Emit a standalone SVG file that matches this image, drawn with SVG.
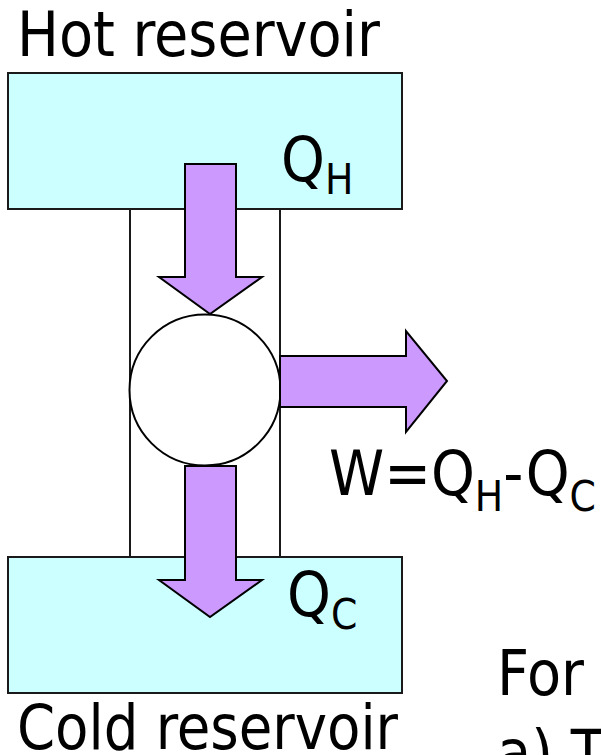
<svg xmlns="http://www.w3.org/2000/svg" width="601" height="755" viewBox="0 0 601 755">
<style>
.box{fill:#CCFFFF;stroke:#1a1a1a;stroke-width:2}
.arr{fill:#CC99FF;stroke:#000;stroke-width:2;stroke-linejoin:miter}
.ln{stroke:#1a1a1a;stroke-width:2;fill:none}
.t{font-family:"DejaVu Sans Condensed","DejaVu Sans",Verdana,sans-serif;fill:#000}
.big{font-size:62px}
.sub{font-size:42px}
</style>
<rect width="601" height="755" fill="#fff"/>
<g id="hot-reservoir">
<rect class="box" x="8" y="73" width="394" height="136"/>
<text class="t big" x="17" y="56" textLength="363" lengthAdjust="spacingAndGlyphs">Hot reservoir</text>
</g>
<g id="cold-reservoir">
<rect class="box" x="8" y="557" width="394" height="136"/>
<text class="t big" x="17" y="749" textLength="381" lengthAdjust="spacingAndGlyphs">Cold reservoir</text>
</g>
<g id="walls">
<line class="ln" x1="130" y1="209" x2="130" y2="557"/>
<line class="ln" x1="280" y1="209" x2="280" y2="557"/>
</g>
<g id="engine">
<circle cx="205" cy="390" r="75.5" fill="#fff" stroke="#000" stroke-width="2"/>
</g>
<g id="connectors">
<polygon class="arr" points="185,164 236,164 236,277 262,277 210,314 159,277 185,277"/>
<polygon class="arr" points="280,356 406,356 406,331 447,381 406,432 406,407 280,407"/>
<polygon class="arr" points="185,466 236,466 236,580 262,580 210,617 159,580 185,580"/>
</g>
<g id="labels">
<text class="t" x="281" y="181"><tspan class="big">Q</tspan><tspan class="sub" dy="13">H</tspan></text>
<text class="t" x="287" y="616"><tspan class="big">Q</tspan><tspan class="sub" dy="13">C</tspan></text>
<text class="t" x="329" y="495"><tspan class="big">W=Q</tspan><tspan class="sub" dy="16">H</tspan><tspan class="big" dy="-16">-Q</tspan><tspan class="sub" dy="16">C</tspan></text>
<text class="t big" x="497" y="695">For</text>
<text class="t big" x="497" y="774">a) T</text>
</g>
</svg>
